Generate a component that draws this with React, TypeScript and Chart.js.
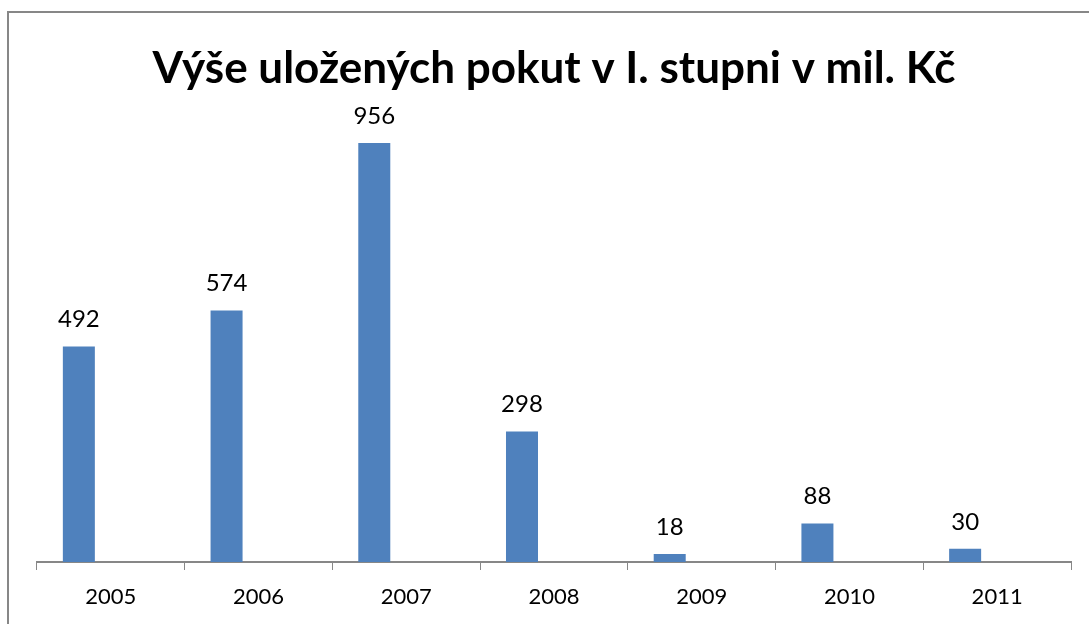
import React, { useEffect, useRef } from "react";
import { Chart, registerables } from "chart.js";

Chart.register(...registerables);

const TITLE = "Výše uložených pokut v I. stupni v mil. Kč";
const YEARS = ["2005", "2006", "2007", "2008", "2009", "2010", "2011"];
const FINES = [492, 574, 956, 298, 18, 88, 30];
const EMPTY = [null, null, null, null, null, null, null];

const FONT = "Lato, 'Open Sans', sans-serif";

const framePlugin = {
  id: "frame",
  beforeDraw(chart: any) {
    const ctx = chart.ctx;
    ctx.save();
    ctx.fillStyle = "#ffffff";
    ctx.fillRect(0, 0, chart.width, chart.height);
    ctx.fillStyle = "#878787";
    ctx.fillRect(7, 11, 2, chart.height - 11);
    ctx.fillRect(7, 11, chart.width - 7, 2);
    ctx.restore();
  },
};

const labelPlugin = {
  id: "barLabels",
  afterDatasetsDraw(chart: any) {
    const ctx = chart.ctx;
    const meta = chart.getDatasetMeta(0);
    ctx.save();
    ctx.font = `24px ${FONT}`;
    ctx.fillStyle = "#000000";
    ctx.textAlign = "center";
    ctx.textBaseline = "alphabetic";
    meta.data.forEach((bar: any, i: number) => {
      const v = chart.data.datasets[0].data[i];
      if (v == null) return;
      ctx.fillText(String(v), bar.x, bar.y - 19);
    });
    ctx.restore();
  },
};

export default function App() {
  const ref = useRef<HTMLCanvasElement>(null);
  useEffect(() => {
    if (!ref.current) return;
    const chart = new Chart(ref.current, {
      type: "bar",
      data: {
        labels: YEARS,
        datasets: [
          { data: FINES, backgroundColor: "#4F81BD", borderWidth: 0 },
          { data: EMPTY as any, backgroundColor: "#C0504D" },
          { data: EMPTY as any, backgroundColor: "#9BBB59" },
        ],
      },
      options: {
        animation: false,
        responsive: false,
        maintainAspectRatio: false,
        layout: { padding: { left: 37, right: 18, top: 0, bottom: 0 } },
        datasets: { bar: { categoryPercentage: 0.65, barPercentage: 1 } },
        plugins: {
          legend: { display: false },
          tooltip: { enabled: false },
          title: {
            display: true,
            text: TITLE,
            color: "#000000",
            font: { family: FONT, size: 44, weight: "bold" },
            padding: { top: 42, bottom: 29 },
          },
        },
        scales: {
          x: {
            grid: {
              display: true,
              drawOnChartArea: false,
              drawTicks: true,
              tickLength: 8,
              color: "#878787",
              offset: true,
            },
            border: { display: true, color: "#878787", width: 2 },
            ticks: {
              color: "#000000",
              font: { family: FONT, size: 22 },
              padding: 14,
              maxRotation: 0,
              autoSkip: false,
            },
            afterFit(scale: any) {
              scale.height = 62;
            },
          },
          y: {
            display: false,
            min: 0,
            max: 1000,
          },
        },
      },
      plugins: [framePlugin, labelPlugin],
    });
    return () => chart.destroy();
  }, []);
  return (
    <div style={{ position: "fixed", left: 0, top: 0, width: 1089, height: 624 }}>
      <canvas ref={ref} width={1089} height={624} style={{ width: 1089, height: 624 }} />
    </div>
  );
}
